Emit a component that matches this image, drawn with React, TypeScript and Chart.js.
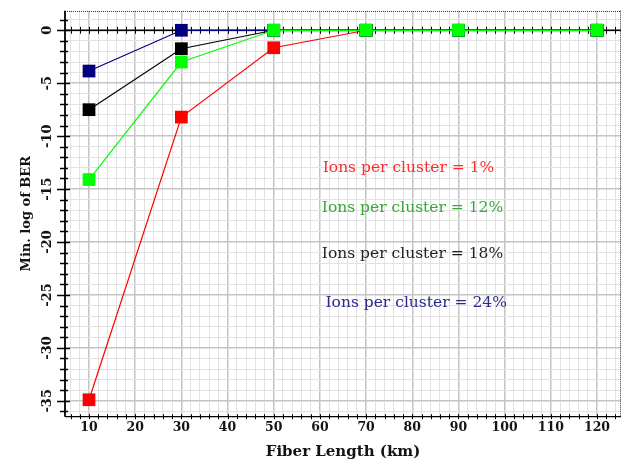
import React, { useEffect, useRef } from 'react';
import { Chart, registerables } from 'chart.js';

Chart.register(...registerables);

// ---- data ----
const fiberLength = [10, 30, 50, 70, 90, 120];
const ber1 = [-34.9, -8.2, -1.65, 0, 0, 0];
const ber12 = [-14.1, -3.0, 0, 0, 0, 0];
const ber18 = [-7.5, -1.74, 0, 0, 0, 0];
const ber24 = [-3.85, 0, 0, 0, 0, 0];
const seriesNames = [
  'Ions per cluster = 1%',
  'Ions per cluster = 12%',
  'Ions per cluster = 18%',
  'Ions per cluster = 24%',
];
const xTickLabels = [10, 20, 30, 40, 50, 60, 70, 80, 90, 100, 110, 120];
const yTickLabels = [0, -5, -10, -15, -20, -25, -30, -35];
const xTitle = 'Fiber Length (km)';
const yTitle = 'Min. log of BER';

// ---- styles ----
const lineColors = ['#ff0000', '#00ff00', '#000000', '#000080'];
const textColors = ['#ff2a2a', '#35a835', '#1e1e1e', '#2b2b8f'];
// annotation anchor positions in data units (x, y)
const annoPos = [
  [60.6, -13.0],
  [60.4, -16.8],
  [60.4, -21.1],
  [61.2, -25.8],
];
const SERIF = '"DejaVu Serif", serif';

const decor = {
  id: 'decor',
  beforeDatasetsDraw(chart: any) {
    const { ctx, chartArea: a, scales } = chart;
    const x = scales.x;
    const y = scales.y;
    const y0 = y.getPixelForValue(0);
    ctx.save();
    ctx.strokeStyle = '#000';
    ctx.lineWidth = 1.5;
    ctx.beginPath();
    ctx.moveTo(a.left, y0);
    ctx.lineTo(a.right, y0);
    ctx.stroke();
    ctx.lineWidth = 1;
    ctx.beginPath();
    for (let v = 6; v < x.max; v += 2) {
      const px = Math.round(x.getPixelForValue(v)) + 0.5;
      ctx.moveTo(px, y0 - 3.5);
      ctx.lineTo(px, y0 + 3.5);
    }
    ctx.stroke();
    ctx.restore();
  },
  afterDraw(chart: any) {
    const { ctx, chartArea: a, scales } = chart;
    const x = scales.x;
    const y = scales.y;
    ctx.save();
    // dotted top & right borders
    ctx.strokeStyle = '#333';
    ctx.lineWidth = 1;
    ctx.setLineDash([1, 1]);
    ctx.beginPath();
    ctx.moveTo(a.left, Math.round(a.top) + 0.5);
    ctx.lineTo(a.right, Math.round(a.top) + 0.5);
    ctx.moveTo(Math.round(a.right) - 0.5, a.top);
    ctx.lineTo(Math.round(a.right) - 0.5, a.bottom);
    ctx.stroke();
    ctx.setLineDash([]);
    // bottom axis
    ctx.strokeStyle = '#000';
    ctx.lineWidth = 1.2;
    ctx.beginPath();
    ctx.moveTo(a.left, a.bottom);
    ctx.lineTo(a.right, a.bottom);
    ctx.stroke();
    ctx.lineWidth = 1;
    ctx.beginPath();
    for (let v = 6; v < x.max; v += 2) {
      const px = Math.round(x.getPixelForValue(v)) + 0.5;
      ctx.moveTo(px, a.bottom - 2.5);
      ctx.lineTo(px, a.bottom + 2.5);
    }
    ctx.stroke();
    // left axis
    ctx.lineWidth = 1.8;
    ctx.beginPath();
    ctx.moveTo(a.left, a.top);
    ctx.lineTo(a.left, a.bottom);
    ctx.stroke();
    ctx.lineWidth = 1.5;
    ctx.beginPath();
    for (let v = Math.ceil(y.min); v <= y.max; v += 1) {
      const py = Math.round(y.getPixelForValue(v)) + 0.5;
      const major = v % 5 === 0;
      ctx.moveTo(a.left - (major ? 8 : 5), py);
      ctx.lineTo(a.left + (major ? 5 : 3), py);
    }
    ctx.stroke();
    // y tick labels (rotated)
    ctx.fillStyle = '#141414';
    ctx.font = 'bold 13px ' + SERIF;
    ctx.textAlign = 'center';
    ctx.textBaseline = 'middle';
    for (const v of yTickLabels) {
      const py = y.getPixelForValue(v);
      ctx.save();
      ctx.translate(48, py);
      ctx.rotate(-Math.PI / 2);
      ctx.fillText(String(v), 0, 0);
      ctx.restore();
    }
    // y title
    ctx.font = 'bold 13px ' + SERIF;
    ctx.save();
    ctx.translate(26.5, (a.top + a.bottom) / 2);
    ctx.rotate(-Math.PI / 2);
    ctx.fillText(yTitle, 0, 0);
    ctx.restore();
    // x title
    ctx.font = 'bold 15px ' + SERIF;
    ctx.fillText(xTitle, (a.left + a.right) / 2, 452);
    // annotations
    ctx.font = '15.5px ' + SERIF;
    ctx.textAlign = 'left';
    seriesNames.forEach((t, i) => {
      ctx.fillStyle = textColors[i];
      ctx.fillText(t, x.getPixelForValue(annoPos[i][0]), y.getPixelForValue(annoPos[i][1]));
    });
    ctx.restore();
  },
};

export default function App() {
  const ref = useRef<HTMLCanvasElement | null>(null);
  useEffect(() => {
    if (!ref.current) return;
    const series = [ber1, ber12, ber18, ber24];
    const orders = [4, 1, 3, 2];
    const chart = new Chart(ref.current, {
      type: 'line',
      data: {
        datasets: series.map((s, i) => ({
          label: seriesNames[i],
          data: fiberLength.map((fx, j) => ({ x: fx, y: s[j] })),
          borderColor: lineColors[i],
          backgroundColor: lineColors[i],
          borderWidth: 1.2,
          pointStyle: 'rect',
          pointRadius: 9,
          pointBorderWidth: 0,
          pointHoverRadius: 9,
          tension: 0,
          order: orders[i],
          clip: false as any,
        })),
      },
      options: {
        animation: false,
        responsive: false,
        events: [],
        layout: { padding: { top: 10.7, right: 5.7, left: 0, bottom: 0 } },
        plugins: { legend: { display: false }, tooltip: { enabled: false } },
        scales: {
          x: {
            type: 'linear',
            min: 4.8,
            max: 125.2,
            afterFit: (s: any) => {
              s.height = 42.3;
            },
            border: { display: false },
            grid: {
              drawTicks: false,
              color: (c: any) => (c.tick && c.tick.value % 10 === 0 ? '#c4c4c4' : '#e2e2e2'),
              lineWidth: (c: any) => (c.tick && c.tick.value % 10 === 0 ? 1.5 : 1),
            },
            ticks: {
              stepSize: 2,
              includeBounds: false,
              autoSkip: false,
              maxRotation: 0,
              padding: 4,
              color: '#141414',
              font: { family: SERIF, weight: 'bold', size: 12.5 },
              callback: (v: any) => (xTickLabels.includes(Number(v)) ? String(v) : ''),
            },
          },
          y: {
            type: 'linear',
            min: -36.5,
            max: 1.85,
            afterFit: (s: any) => {
              s.width = 65;
            },
            border: { display: false },
            grid: {
              drawTicks: false,
              color: (c: any) => (c.tick && c.tick.value % 5 === 0 ? '#c4c4c4' : '#e2e2e2'),
              lineWidth: (c: any) => (c.tick && c.tick.value % 5 === 0 ? 1.5 : 1),
            },
            ticks: { stepSize: 1, includeBounds: false, display: false },
          },
        },
      },
      plugins: [decor],
    } as any);
    return () => chart.destroy();
  }, []);
  return (
    <div style={{ position: 'absolute', left: 0, top: 0, width: 630, height: 459 }}>
      <canvas ref={ref} width={630} height={459} />
    </div>
  );
}
